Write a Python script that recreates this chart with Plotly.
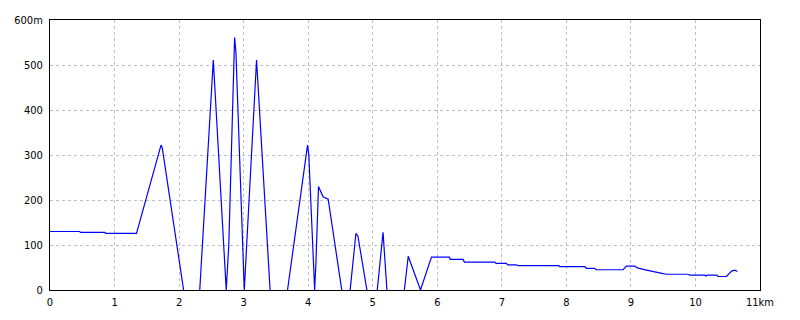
import plotly.graph_objects as go

# distance (km) and elevation (m); None = no data (line hidden below 0)
dist_km = [0.00, 0.46, 0.47, 0.85, 0.86, 1.15, 1.17, 1.19, 1.34, 1.72, 1.74, 2.07, None, 2.32, 2.53, 2.73, 2.77, 2.86, 2.88, 3.01, 3.20, 3.41, None,
           3.68, 3.99, 4.01, 4.10, 4.12, 4.16, 4.23, 4.31, 4.52, None, 4.65, 4.74, 4.77, 4.91, None, 5.07, 5.16, 5.22, None, 5.49, 5.55, 5.74, 5.91,
           6.19, 6.20, 6.40, 6.42, 6.89, 6.91, 7.07, 7.09, 7.23, 7.25, 7.88, 7.90, 8.29, 8.31, 8.44, 8.46, 8.88, 8.93, 9.06,
           9.10, 9.19, 9.28, 9.37, 9.48, 9.55, 9.89, 9.91, 10.14, 10.16, 10.18, 10.33, 10.35, 10.48, 10.56, 10.61, 10.65]
elev_m = [130, 130, 128, 128, 126, 126, 127, 126, 126, 322, 315, 0, None, 0, 511, 0, 100, 561, 530, 0, 511, 0, None,
          0, 322, 300, 0, 60, 230, 207, 202, 0, None, 0, 126, 120, 0, None, 0, 128, 0, None, 0, 75, 0, 73,
          73, 68, 68, 62, 62, 59, 59, 56, 56, 54, 54, 52, 52, 48, 48, 45, 45, 53, 53,
          49, 46, 43, 39, 37, 35, 35, 33, 33, 31, 33, 33, 30, 30, 42, 44, 41]

x_ticks = [0, 1, 2, 3, 4, 5, 6, 7, 8, 9, 10, 11]
x_labels = ["0", "1", "2", "3", "4", "5", "6", "7", "8", "9", "10", "11km"]
y_ticks = [0, 100, 200, 300, 400, 500, 600]
y_labels = ["0", "100", "200", "300", "400", "500", "600m"]

fig = go.Figure()
fig.add_trace(go.Scatter(x=dist_km, y=elev_m, mode="lines", connectgaps=False,
                         line=dict(color="#0000ff", width=1.2), hoverinfo="skip"))

font = dict(family="DejaVu Sans Condensed, Liberation Sans Narrow, sans-serif", size=11, color="black")
axis_common = dict(showline=True, linecolor="black", linewidth=1, mirror=True,
                   showgrid=True, gridcolor="#c0c0c0", griddash="3px,3px", gridwidth=1,
                   zeroline=False, ticks="", tickfont=font, fixedrange=True)

fig.update_layout(
    width=800, height=320,
    margin=dict(l=50, r=40, t=20, b=30),
    paper_bgcolor="white", plot_bgcolor="white",
    showlegend=False,
    xaxis=dict(range=[0, 11], tickvals=x_ticks, ticktext=x_labels, ticklabelstandoff=2, **axis_common),
    yaxis=dict(range=[0, 600], tickvals=y_ticks, ticktext=y_labels, ticklabelstandoff=4, **axis_common),
)
fig.write_html("out.html")
